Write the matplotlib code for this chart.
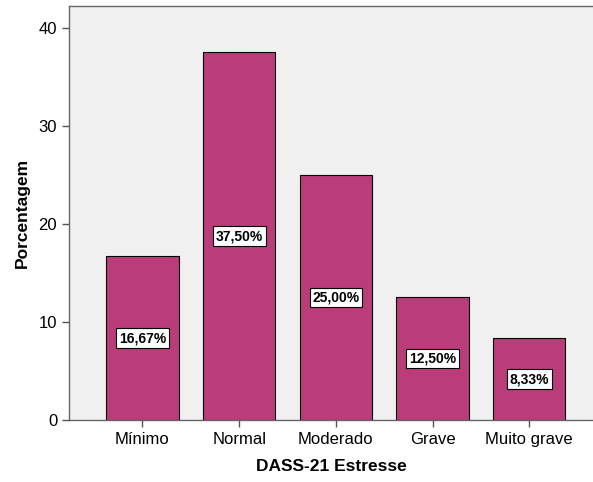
import matplotlib
matplotlib.use("Agg")
import matplotlib.pyplot as plt

plt.rcParams['font.family'] = ['Liberation Sans', 'DejaVu Sans']

categorias = ["Mínimo", "Normal", "Moderado", "Grave", "Muito grave"]
porcentagem = [16.67, 37.50, 25.00, 12.50, 8.33]
rotulos = ["16,67%", "37,50%", "25,00%", "12,50%", "8,33%"]
yticks = [0, 10, 20, 30, 40]

fig = plt.figure(figsize=(5.93, 4.82), dpi=100)
ax = fig.add_axes([0.1164, 0.1286, 0.8836, 0.859])
ax.set_facecolor("#F0F0F0")

x = list(range(len(categorias)))
bars = ax.bar(x, porcentagem, width=0.75, color="#BA3D7A", edgecolor="black", linewidth=0.8, zorder=2)

# rótulos de valor no meio de cada barra
for xi, v, r in zip(x, porcentagem, rotulos):
    ax.text(xi, v / 2, r, ha="center", va="center", fontsize=10, fontweight="bold",
            bbox=dict(boxstyle="square,pad=0.2", fc="white", ec="black", lw=0.8), zorder=3)

ax.set_xlim(-0.76, 4.66)
ax.set_ylim(0, 42.2)
ax.set_xticks(x)
ax.set_xticklabels(categorias, fontsize=12)
ax.set_yticks(yticks)
ax.tick_params(axis="y", labelsize=12, length=5, color="#555555", width=1)
ax.tick_params(axis="x", length=5, color="#555555", width=1)

for s in ["left", "bottom", "top"]:
    ax.spines[s].set_color("#666666")
    ax.spines[s].set_linewidth(1)
ax.spines["right"].set_visible(False)

ax.set_xlabel("DASS-21 Estresse", fontsize=12.5, fontweight="bold", labelpad=9)
ax.set_ylabel("Porcentagem", fontsize=12.5, fontweight="bold", labelpad=6)

fig.savefig("out.png", dpi=100)
